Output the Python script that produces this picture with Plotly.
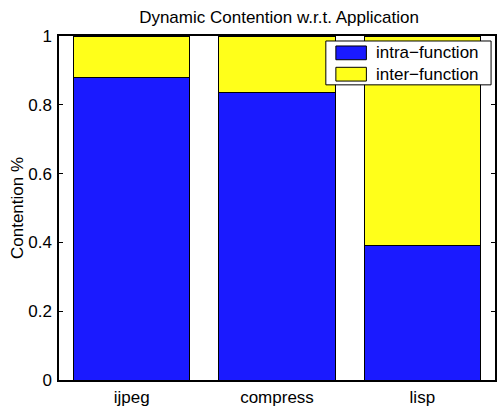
import plotly.graph_objects as go

categories = ["ijpeg", "compress", "lisp"]
intra_function = [0.879, 0.836, 0.390]
inter_function = [1 - v for v in intra_function]
series_names = ["intra\u2212function", "inter\u2212function"]
y_ticks = [0, 0.2, 0.4, 0.6, 0.8, 1]
y_tick_labels = ["0", "0.2", "0.4", "0.6", "0.8", "1"]

BLUE = "#1a1aff"
YELLOW = "#ffff1a"
FONT = "Liberation Sans, Arial, Helvetica, sans-serif"
FS = 17

x = list(range(1, len(categories) + 1))

fig = go.Figure()
fig.add_trace(go.Bar(x=x, y=intra_function, name=series_names[0],
                     marker=dict(color=BLUE, line=dict(color="black", width=1)),
                     showlegend=False))
fig.add_trace(go.Bar(x=x, y=inter_function, name=series_names[1],
                     marker=dict(color=YELLOW, line=dict(color="black", width=1)),
                     showlegend=False))

# custom MATLAB-style legend (paper coordinates)
fig.add_shape(type="rect", xref="paper", yref="paper", x0=0.612, x1=0.991, y0=0.858, y1=0.9855,
              line=dict(color="black", width=1), fillcolor="white", layer="above")
rows = [(0.931, 0.971, 0.951, BLUE, series_names[0]),
        (0.869, 0.909, 0.889, YELLOW, series_names[1])]
for y0, y1, yc, col, name in rows:
    fig.add_shape(type="rect", xref="paper", yref="paper", x0=0.635, x1=0.705, y0=y0, y1=y1,
                  line=dict(color="black", width=1), fillcolor=col, layer="above")
    fig.add_annotation(xref="paper", yref="paper", x=0.722, y=yc, text=name, showarrow=False,
                       xanchor="left", yanchor="middle", font=dict(family=FONT, size=FS, color="black"))

fig.update_layout(
    width=497, height=407,
    margin=dict(l=59, r=0, t=36, b=25),
    paper_bgcolor="white", plot_bgcolor="white",
    barmode="stack", bargap=0.2,
    font=dict(family=FONT, size=FS, color="black"),
    title=dict(text="Dynamic Contention w.r.t. Application", x=279 / 497, xanchor="center",
               y=1 - 17 / 407, yanchor="middle", font=dict(family=FONT, size=FS)),
)
fig.update_xaxes(range=[0.5, 3.5], tickvals=x, ticktext=categories, ticks="",
                 showline=True, linecolor="black", linewidth=1.5, mirror=True,
                 showgrid=False, zeroline=False, ticklabelstandoff=1)
fig.update_yaxes(range=[0, 1], tickvals=y_ticks, ticktext=y_tick_labels,
                 ticks="inside", ticklen=4, tickcolor="black", tickwidth=1,
                 showline=True, linecolor="black", linewidth=1.5, mirror="ticks",
                 showgrid=False, zeroline=False, ticklabelstandoff=2,
                 title=dict(text="Contention %", standoff=0, font=dict(family=FONT, size=FS)))

fig.write_html("out.html")
